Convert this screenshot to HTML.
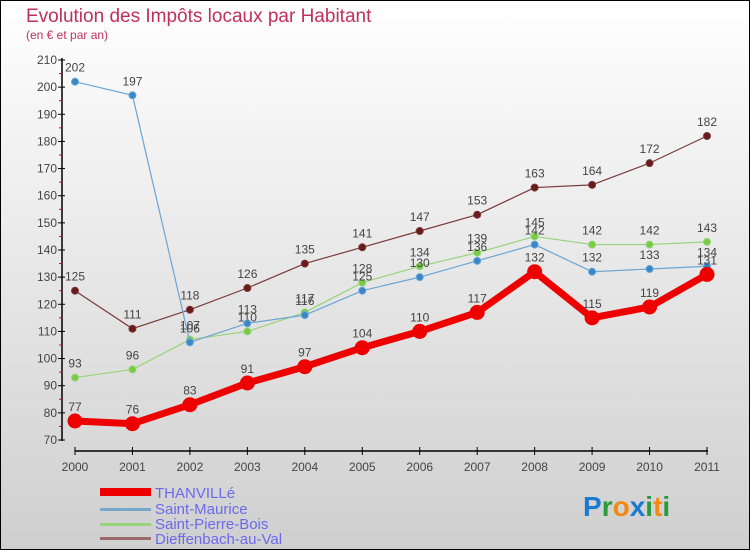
<!DOCTYPE html>
<html><head><meta charset="utf-8">
<style>
body{margin:0;width:750px;height:550px;overflow:hidden;font-family:"Liberation Sans",sans-serif;}
svg text{font-family:"Liberation Sans",sans-serif;}
</style></head>
<body>
<svg id="chart" width="750" height="550" xmlns="http://www.w3.org/2000/svg">
<defs><linearGradient id="bg" x1="0" y1="0" x2="0" y2="1"><stop offset="0" stop-color="#ffffff"/><stop offset="1" stop-color="#cfcfcf"/></linearGradient></defs>
<rect x="0.5" y="0.5" width="749" height="549" fill="url(#bg)" stroke="#000" stroke-width="1"/>
<text x="26" y="22" font-size="19" fill="#c0305a">Evolution des Impôts locaux par Habitant</text>
<text x="26" y="39" font-size="12" fill="#c0305a">(en € et par an)</text>
<g id="axes"></g>
<g id="series"></g>
<g>
<rect x="100" y="488" width="51" height="8" fill="#ee0000"/>
<text x="155" y="498" font-size="15" fill="#6a6aee">THANVILLé</text>
<rect x="100" y="508" width="51" height="3" fill="#79a7c7"/>
<text x="155" y="514" font-size="15" fill="#6a6aee">Saint-Maurice</text>
<rect x="100" y="523" width="51" height="3" fill="#99d37a"/>
<text x="155" y="529" font-size="15" fill="#6a6aee">Saint-Pierre-Bois</text>
<rect x="100" y="537" width="51" height="3" fill="#9a6a6a"/>
<text x="155" y="544" font-size="15" fill="#6a6aee">Dieffenbach-au-Val</text>
</g>
<g font-size="28" font-weight="bold">
<text x="583" y="516"><tspan fill="#1a7ad0">P</tspan><tspan fill="#2a9a3a">r</tspan><tspan fill="#f08a10">o</tspan><tspan fill="#1a7ad0">x</tspan><tspan fill="#2a9a3a">i</tspan><tspan fill="#f08a10">t</tspan><tspan fill="#2a9a3a">i</tspan></text>
</g>
</svg>
<script>
const years=["2000","2001","2002","2003","2004","2005","2006","2007","2008","2009","2010","2011"];
const yTicks=[70,80,90,100,110,120,130,140,150,160,170,180,190,200,210];
const thanville=[77,76,83,91,97,104,110,117,132,115,119,131];
const saintMaurice=[202,197,106,113,116,125,130,136,142,132,133,134];
const saintPierreBois=[93,96,107,110,117,128,134,139,145,142,142,143];
const dieffenbach=[125,111,118,126,135,141,147,153,163,164,172,182];

const NS="http://www.w3.org/2000/svg";
function xS(i){return 75+i*(707-75)/11;}
function yS(v){return 440-(v-70)*(380/140);}
function mk(tag,attrs,parent){const e=document.createElementNS(NS,tag);for(const k in attrs)e.setAttribute(k,attrs[k]);parent.appendChild(e);return e;}
const axes=document.getElementById('axes');
const ya=mk('line',{x1:62,y1:58,x2:62,y2:441,stroke:'#000','stroke-width':1.5},axes);


const xa=mk('line',{x1:75,y1:451,x2:708,y2:451,stroke:'#000','stroke-width':1.5},axes);


yTicks.forEach((v,i)=>{
  const y=yS(v);
  mk('line',{x1:58,y1:y,x2:65,y2:y,stroke:'#000'},axes);
  if(i<yTicks.length-1) mk('line',{x1:59,y1:yS(v+5),x2:62,y2:yS(v+5),stroke:'#e00'},axes);
  const t=mk('text',{x:57,y:y+4,'text-anchor':'end','font-size':12,fill:'#444'},axes);
  t.textContent=v;
  
  
});
years.forEach((yr,i)=>{
  const x=xS(i);
  mk('line',{x1:x,y1:447,x2:x,y2:455,stroke:'#000'},axes);
  const t=mk('text',{x:x,y:471,'text-anchor':'middle','font-size':12,fill:'#444'},axes);
  t.textContent=yr;
  
  
});
const sg=document.getElementById('series');
function drawSeries(vals,color,dot,w,r,name){
  const g=mk('g',{},sg);
  
  
  const pl=mk('polyline',{points:vals.map((v,i)=>xS(i)+','+yS(v)).join(' '),fill:'none',stroke:color,'stroke-width':w,'stroke-linejoin':'round'},g);
  
  
  vals.forEach((v,i)=>{
    const c=mk('circle',{cx:xS(i),cy:yS(v),r:r,fill:dot,stroke:color,'stroke-width':1},g);
    
    
    const t=mk('text',{x:xS(i),y:yS(v)-10,'text-anchor':'middle','font-size':12,fill:'#444'},g);
    t.textContent=v;
    
    
  });
}
drawSeries(dieffenbach,'#7a3a3a','#6a1a1a',1.2,3.5,'dieffenbach-series');
drawSeries(saintPierreBois,'#99d37a','#77cc44',1.2,3.5,'saint-pierre-bois-series');
drawSeries(saintMaurice,'#6aa6d6','#3a86c6',1.2,3.5,'saint-maurice-series');
drawSeries(thanville,'#ee0000','#ee0000',7,7,'thanville-series');
</script>
</body></html>
